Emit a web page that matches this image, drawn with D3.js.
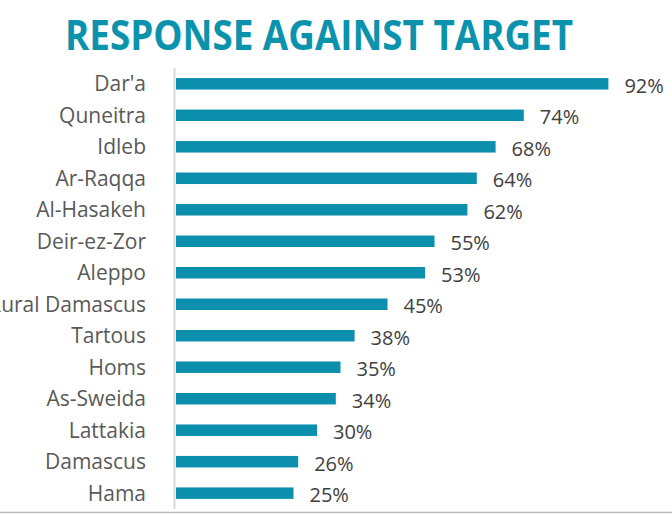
<!DOCTYPE html>
<html>
<head>
<meta charset="utf-8">
<script src="https://cdn.jsdelivr.net/npm/d3@7"></script>
<style>
  html, body { margin: 0; padding: 0; background: #fff; }
  svg { display: block; font-family: "Open Sans", "Noto Sans", sans-serif; }
</style>
</head>
<body>
<svg id="chart" width="672" height="514"></svg>
<script>
const title = "RESPONSE AGAINST TARGET"
const regions = ["Dar'a", "Quneitra", "Idleb", "Ar-Raqqa", "Al-Hasakeh", "Deir-ez-Zor", "Aleppo",
  "Rural Damascus", "Tartous", "Homs", "As-Sweida", "Lattakia", "Damascus", "Hama"]
const responsePct = [92, 74, 68, 64, 62, 55, 53, 45, 38, 35, 34, 30, 26, 25]

const width = 672
const height = 514
const m = {top: 68, right: 26, bottom: 5, left: 176}

const svg = d3.select("#chart")
const data = regions.map((name, i) => ({name, v: responsePct[i]}))

const x = d3.scaleLinear().domain([0, 100]).range([m.left, m.left + 470])
const y = d3.scaleBand().domain(regions).range([m.top, 509]).paddingInner(0.635).paddingOuter(0.32)

// title
const t = svg.append("text")
  .attr("x", 65)
  .attr("y", 50)
  .attr("font-size", 41)
  .attr("font-weight", 700)
  .attr("fill", "#0b93ad")
  .text(title)
t.attr("textLength", 508).attr("lengthAdjust", "spacingAndGlyphs")

// bars
svg.append("g")
  .selectAll("rect")
  .data(data)
  .join("rect")
  .attr("x", x(0))
  .attr("y", (d) => y(d.name))
  .attr("width", (d) => x(d.v) - x(0))
  .attr("height", y.bandwidth())
  .attr("fill", "#0b8fad")

// value labels
svg.append("g")
  .selectAll("text")
  .data(data)
  .join("text")
  .attr("x", (d) => x(d.v) + 16)
  .attr("y", (d) => y(d.name) + y.bandwidth() / 2 + 2)
  .attr("dy", "0.35em")
  .attr("font-size", 20)
  .attr("fill", "#404040")
  .text((d) => d.v + "%")

// category axis
const yAxis = svg.append("g")
  .attr("transform", `translate(${m.left - 1},0)`)
  .call(d3.axisLeft(y).tickSize(0).tickPadding(29))
yAxis.select(".domain").remove()
yAxis.selectAll("text")
  .attr("font-size", 21)
  .attr("font-family", "Open Sans, sans-serif")
  .attr("fill", "#595959")
  .attr("dy", "0.36em")

// axis line
svg.append("line")
  .attr("x1", 174.5).attr("x2", 174.5)
  .attr("y1", 68).attr("y2", 509)
  .attr("stroke", "#d9d9d9")
  .attr("stroke-width", 2)

// bottom frame line
svg.append("line")
  .attr("x1", 0).attr("x2", width)
  .attr("y1", 512.5).attr("y2", 512.5)
  .attr("stroke", "#bfbfbf")
  .attr("stroke-width", 1.5)
</script>
</body>
</html>
